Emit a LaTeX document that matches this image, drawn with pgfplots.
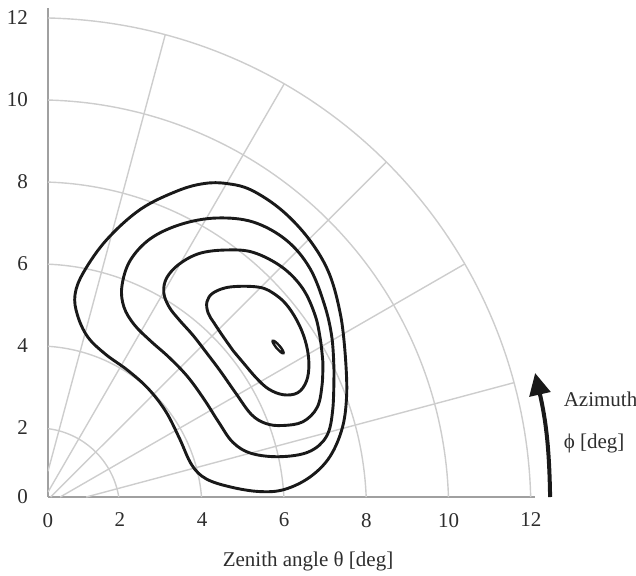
\documentclass[border=0pt]{standalone}
\usepackage{fontspec}
\setmainfont{Liberation Serif}
\usepackage{pgfplots}
\pgfplotsset{compat=1.18}
\usetikzlibrary{arrows.meta}
\definecolor{gridc}{RGB}{205,205,205}
\definecolor{axc}{RGB}{160,160,160}
\definecolor{txt}{RGB}{45,45,45}
\begin{document}
\begin{tikzpicture}
\begin{axis}[
  scale only axis, width=243.5pt, height=244.5pt,
  xmin=0.253, xmax=12.1, ymin=0.317, ymax=12.24,
  axis x line=bottom, axis y line=left,
  axis line style={-, draw=axc, line width=0.9pt},
  xtick={0.253,2,4,6,8,10,12}, xticklabels={0,2,4,6,8,10,12},
  ytick={0.317,2,4,6,8,10,12}, yticklabels={0,2,4,6,8,10,12},
  major tick length=0pt,
  tick label style={font=\fontsize{10.5}{12}\selectfont, text=txt},
  /pgf/number format/assume math mode=true,
  xticklabel style={yshift=-4.5pt},
  yticklabel style={xshift=-6.5pt},
]
% polar grid
\pgfplotsinvokeforeach{2,4,6,8,10,12}{
  \draw[gridc, line width=0.7pt] plot[domain={asin(0.317/#1)}:{acos(0.253/#1)}, samples=80, variable=\t] ({#1*cos(\t)},{#1*sin(\t)});
}
\draw[gridc, line width=0.7pt] (1.183,0.317) -- ({12*cos(15)},{12*sin(15)});
\draw[gridc, line width=0.7pt] (0.549,0.317) -- ({12*cos(30)},{12*sin(30)});
\draw[gridc, line width=0.7pt] (0.317,0.317) -- ({12*cos(45)},{12*sin(45)});
\draw[gridc, line width=0.7pt] (0.253,0.438) -- ({12*cos(60)},{12*sin(60)});
\draw[gridc, line width=0.7pt] (0.253,0.944) -- ({12*cos(75)},{12*sin(75)});

% contours
\addplot[black!90, line width=1.45pt, smooth, tension=0.6] coordinates {
(7.49,3.70)(7.38,4.70)(7.10,5.75)(6.62,6.58)(5.95,7.30)(5.20,7.80)(4.60,7.96)(4.05,7.96)(3.40,7.78)(2.50,7.33)(1.68,6.59)(1.12,5.80)(0.91,5.25)(0.97,4.75)(1.22,4.22)(1.65,3.80)(2.20,3.40)(2.70,2.95)(3.12,2.40)(3.45,1.75)(3.75,1.10)(4.10,0.76)(4.70,0.56)(5.40,0.45)(6.00,0.50)(6.62,0.80)(7.11,1.30)(7.42,2.03)(7.52,2.85)(7.49,3.70)
};
\addplot[black!90, line width=1.45pt, smooth, tension=0.6] coordinates {
(7.21,3.40)(7.16,4.20)(6.98,5.00)(6.62,5.90)(6.05,6.58)(5.25,7.02)(4.36,7.12)(3.50,6.97)(2.75,6.62)(2.25,6.08)(2.05,5.45)(2.10,4.95)(2.35,4.52)(2.75,4.12)(3.20,3.72)(3.65,3.25)(4.05,2.70)(4.40,2.15)(4.75,1.65)(5.20,1.38)(5.90,1.30)(6.60,1.42)(7.03,1.80)(7.18,2.45)(7.21,3.40)
};
\addplot[black!90, line width=1.45pt, smooth, tension=0.6] coordinates {
(6.94,3.60)(6.88,4.15)(6.75,4.75)(6.45,5.40)(5.95,5.92)(5.25,6.28)(4.60,6.34)(3.95,6.26)(3.45,6.00)(3.14,5.66)(3.07,5.30)(3.20,4.95)(3.45,4.63)(3.78,4.26)(4.12,3.82)(4.45,3.38)(4.82,2.85)(5.20,2.33)(5.55,2.11)(5.95,2.06)(6.45,2.15)(6.80,2.50)(6.92,3.05)(6.94,3.60)
};
\addplot[black!90, line width=1.45pt, smooth, tension=0.6] coordinates {
(4.76,3.88)(5.02,3.57)(5.32,3.22)(5.62,2.95)(5.98,2.81)(6.33,2.86)(6.54,3.14)(6.60,3.55)(6.54,4.02)(6.37,4.50)(6.10,4.95)(5.80,5.24)(5.40,5.43)(4.70,5.44)(4.28,5.30)(4.12,5.08)(4.15,4.80)(4.30,4.55)(4.52,4.22)(4.76,3.88)
};
\addplot[black!90, line width=1.2pt, smooth, tension=0.7] coordinates {
(5.816,3.946)(5.918,3.847)(5.980,3.823)(5.966,3.888)(5.884,4.004)(5.782,4.103)(5.720,4.127)(5.734,4.062)(5.816,3.946)
};

\coordinate (xl) at (6.579,-1.366);
\coordinate (az) at (12.79,2.52);
\coordinate (ph) at (12.79,1.512);
\coordinate (a0) at (12.467,0.317);
\coordinate (a1) at (12.102,3.341);
\end{axis}
\node[anchor=base, inner sep=0, font=\fontsize{10.5}{12}\selectfont, text=txt] at (xl) {Zenith angle θ [deg]};
\node[anchor=base west, inner sep=0, font=\fontsize{10.5}{12}\selectfont, text=txt] at (az) {Azimuth};
\node[anchor=base west, inner sep=0, font=\fontsize{10.5}{12}\selectfont, text=txt] at (ph) {ϕ [deg]};
\draw[line width=2pt, black!90, -{Triangle[width=10.5pt,length=11pt]}] (a0) to[bend right=6] (a1);
\pgfresetboundingbox
\path[use as bounding box] (-24pt,-39pt) rectangle (294pt,248.5pt);
\end{tikzpicture}
\end{document}
